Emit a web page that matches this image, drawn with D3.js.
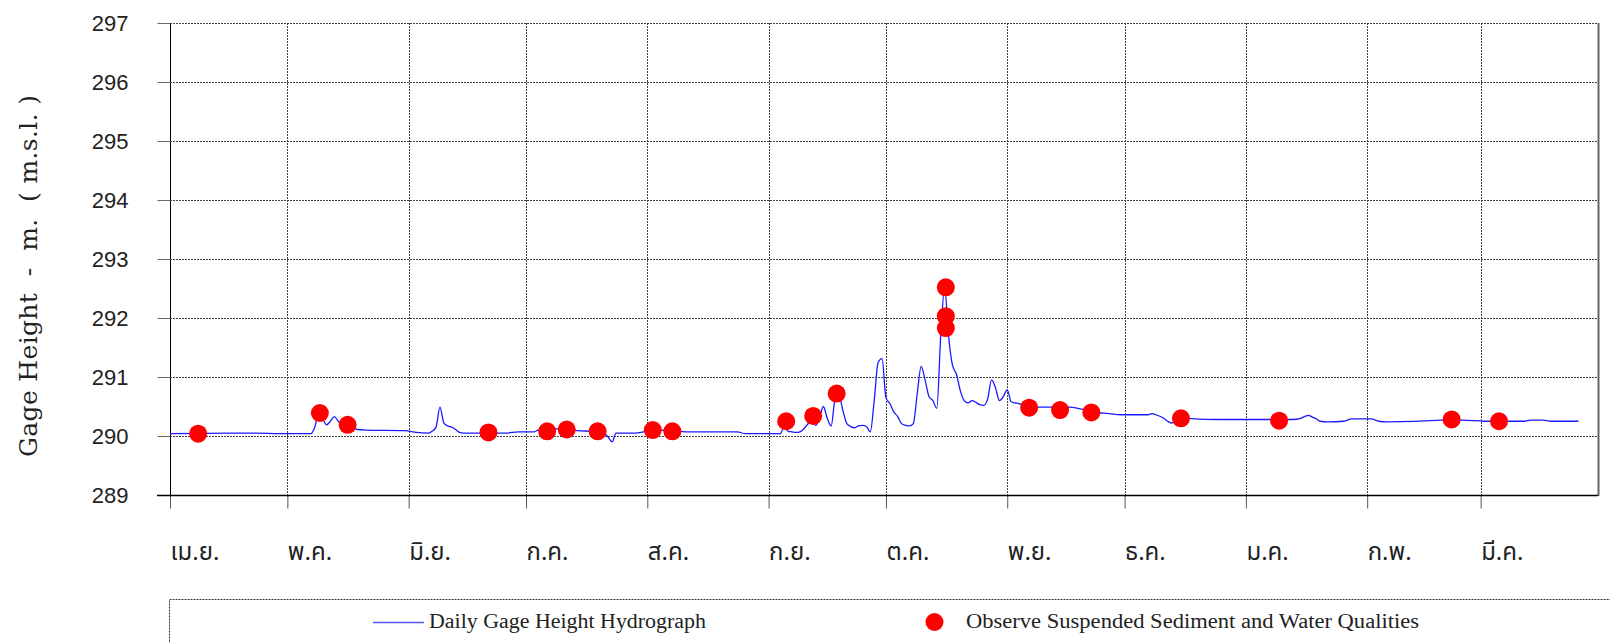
<!DOCTYPE html>
<html><head><meta charset="utf-8">
<script src="https://cdn.jsdelivr.net/npm/d3@7"></script>
<style>body{margin:0;background:#fff} svg{display:block}</style>
</head><body><svg id="c" width="1610" height="643"></svg>
<script>
// ---- data ----
const yearStart = "2019-04-01";
const yearEnd = "2020-03-31";
const monthLabels = ["เม.ย.","พ.ค.","มิ.ย.","ก.ค.","ส.ค.","ก.ย.","ต.ค.","พ.ย.","ธ.ค.","ม.ค.","ก.พ.","มี.ค."];
const yTickValues = [289,290,291,292,293,294,295,296,297];
// daily gage height hydrograph (day offset from 1 Apr, m.s.l.)
const hydroDay = [0,20,30,36,37,38,39,40,41,42,43,44,45,46,47,48,50,60,63,66,67,68,69,70,71,72,73,74,75,86,89,93,94,96,100,104,108,110,111,112,113,114,119,121,122,125,128,132,145,147,156,157,158,159,160,161,162,163,164,165,166,167,168,169,170,171,172,173,174,175,176,177,178,179,180,181,182,183,184,185,186,187,188,189,190,191,192,193,194,195,196,197,198,199,200,201,202,203,204,205,206,207,208,209,210,211,212,213,214,215,216,217,218,219,230,232,234,236,238,240,243,250,251,252,254,255,256,257,258,260,268,282,287,289,290,291,292,293,294,296,300,302,307,309,311,325,327,330,334,336,346,348,351,353,360];
const hydroValue = [290.04,290.05,290.04,290.04,290.15,290.38,290.30,290.19,290.25,290.33,290.25,290.18,290.17,290.16,290.13,290.11,290.10,290.09,290.06,290.05,290.08,290.15,290.49,290.22,290.17,290.15,290.11,290.06,290.05,290.05,290.07,290.07,290.10,290.12,290.12,290.09,290.08,290.07,290.05,289.98,289.90,290.05,290.05,290.07,290.08,290.10,290.09,290.07,290.07,290.04,290.04,290.16,290.08,290.07,290.06,290.07,290.12,290.20,290.27,290.18,290.30,290.50,290.30,290.17,290.62,290.68,290.43,290.21,290.16,290.14,290.17,290.18,290.16,290.07,290.60,291.25,291.31,290.65,290.55,290.41,290.33,290.21,290.18,290.17,290.21,290.72,291.18,290.95,290.67,290.60,290.47,291.70,292.52,291.70,291.20,291.05,290.77,290.60,290.56,290.60,290.57,290.53,290.52,290.63,290.95,290.82,290.60,290.67,290.78,290.58,290.56,290.55,290.52,290.49,290.49,290.47,290.44,290.40,290.39,290.38,290.36,290.36,290.38,290.36,290.30,290.25,290.22,290.25,290.31,290.30,290.28,290.28,290.28,290.30,290.33,290.35,290.32,290.29,290.25,290.24,290.25,290.29,290.29,290.25,290.24,290.27,290.28,290.27,290.26,290.25,290.25,290.27,290.27,290.25,290.25];
// observed suspended sediment / water quality samples (day offset incl. time of day)
const sampleDay = [7.2,38.3,45.4,81.4,96.4,101.4,109.3,123.4,128.4,157.5,164.4,170.4,198.3,198.3,198.3,219.6,227.5,235.5,258.4,283.5,327.6,339.7];
const sampleValue = [290.04,290.39,290.19,290.06,290.08,290.11,290.08,290.10,290.08,290.25,290.34,290.72,292.52,292.03,291.83,290.48,290.44,290.40,290.30,290.26,290.28,290.25];
const yTitle = "Gage Height  -  m.  ( m.s.l. )";
const legendLine = "Daily Gage Height Hydrograph";
const legendDot = "Observe Suspended Sediment and Water Qualities";

// ---- chart ----
const svg = d3.select("#c");
const parse = d3.timeParse("%Y-%m-%d");
const t0 = parse(yearStart), t1 = parse(yearEnd);
const toDate = d => new Date(t0.getTime() + d * 864e5);
const L = 170, R = 1598, T = 23, B = 495;
const x = d3.scaleTime().domain([t0, t1]).range([L, R]);
const y = d3.scaleLinear().domain([289, 297]).range([B, T]);
const months = d3.timeMonth.range(t0, t1);

// grid
const grid = svg.append("g").attr("stroke", "#444").attr("stroke-width", 1).attr("stroke-dasharray", "2,1").attr("fill", "none");
grid.selectAll("line.h").data(yTickValues.filter(v => v > 289)).join("line")
  .attr("x1", L).attr("x2", R).attr("y1", d => Math.round(y(d)) + 0.5).attr("y2", d => Math.round(y(d)) + 0.5);
grid.selectAll("line.v").data(months.slice(1)).join("line")
  .attr("x1", d => Math.round(x(d)) + 0.5).attr("x2", d => Math.round(x(d)) + 0.5).attr("y1", T).attr("y2", B);

// right border
svg.append("line").attr("x1", R + 0.5).attr("x2", R + 0.5).attr("y1", T).attr("y2", B + 1).attr("stroke", "#666").attr("stroke-width", 2);

// y axis
const yAxis = svg.append("g").attr("transform", `translate(${L + 0.5},0)`)
  .call(d3.axisLeft(y).tickValues(yTickValues).tickSize(13).tickPadding(29).tickFormat(d3.format("d")));
yAxis.select(".domain").attr("stroke", "#000").attr("d", `M0,${T}V${B}`);
yAxis.selectAll(".tick line").attr("stroke", "#666");
yAxis.selectAll(".tick text").attr("font-family", "'Liberation Sans', Arial, sans-serif").attr("font-size", 22).attr("fill", "#222");

// x axis
const xAxis = svg.append("g").attr("transform", `translate(0,${B + 0.5})`)
  .call(d3.axisBottom(x).tickValues(months).tickSize(13).tickFormat((d, i) => monthLabels[i]));
xAxis.select(".domain").remove();
xAxis.selectAll(".tick line").attr("stroke", "#555");
xAxis.selectAll(".tick text").attr("text-anchor", "start").attr("y", 64).attr("dy", 0)
  .attr("font-family", "'Noto Sans Thai', 'Noto Sans Thai Looped', Loma, Garuda, 'Tlwg Typo', sans-serif").attr("font-size", 24).attr("fill", "#222");
svg.append("line").attr("x1", L - 13).attr("x2", R).attr("y1", B + 0.5).attr("y2", B + 0.5).attr("stroke", "#000").attr("stroke-width", 1.5);

// y title
svg.append("text").attr("transform", `translate(37,276) rotate(-90)`).attr("text-anchor", "middle")
  .attr("font-family", "'DejaVu Serif', serif").attr("font-size", 25).attr("fill", "#222")
  .attr("textLength", 362).attr("lengthAdjust", "spacing")
  .style("white-space", "pre").text(yTitle);

// hydrograph
const line = d3.line().x(d => x(toDate(d[0]))).y(d => y(d[1])).curve(d3.curveMonotoneX);
svg.append("path").datum(hydroDay.map((d, i) => [d, hydroValue[i]]))
  .attr("d", line).attr("fill", "none").attr("stroke", "#1a1aff").attr("stroke-width", 1.3);

// samples
svg.append("g").selectAll("circle").data(sampleDay.map((d, i) => [d, sampleValue[i]])).join("circle")
  .attr("cx", d => x(toDate(d[0]))).attr("cy", d => y(d[1])).attr("r", 9).attr("fill", "#ff0000");

// legend
svg.append("rect").attr("x", L - 0.5).attr("y", 599.5).attr("width", 1500).attr("height", 120)
  .attr("fill", "none").attr("stroke", "#333").attr("stroke-dasharray", "2,1");
svg.append("line").attr("x1", 373).attr("x2", 424).attr("y1", 622.5).attr("y2", 622.5).attr("stroke", "#5555ff").attr("stroke-width", 1.5);
svg.append("text").attr("x", 429).attr("y", 628).attr("font-family", "'Liberation Serif', serif").attr("font-size", 20)
  .attr("textLength", 277).attr("lengthAdjust", "spacingAndGlyphs").attr("fill", "#222").text(legendLine);
svg.append("circle").attr("cx", 934.5).attr("cy", 622).attr("r", 9).attr("fill", "#ff0000");
svg.append("text").attr("x", 966).attr("y", 628).attr("font-family", "'Liberation Serif', serif").attr("font-size", 20)
  .attr("textLength", 453).attr("lengthAdjust", "spacingAndGlyphs").attr("fill", "#222").text(legendDot);
</script></body></html>
